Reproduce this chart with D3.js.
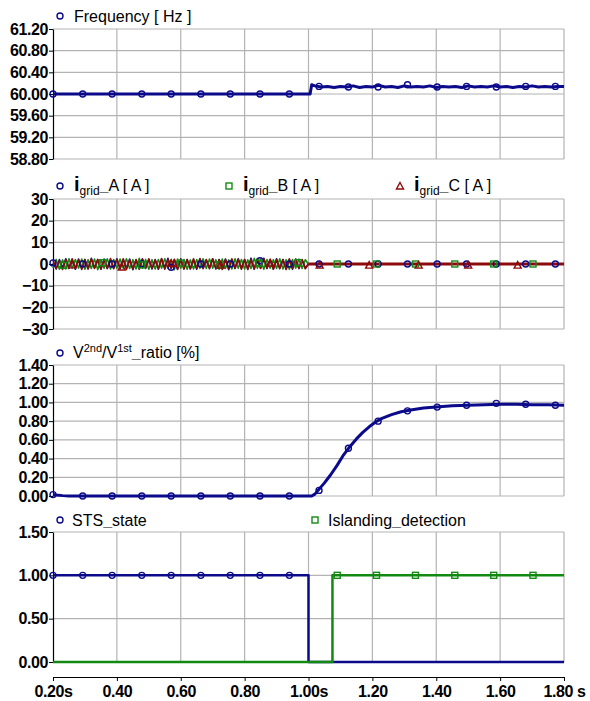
<!DOCTYPE html>
<html>
<head>
<meta charset="utf-8">
<script src="https://cdn.jsdelivr.net/npm/d3@7"></script>
<style>
  body { margin: 0; background: #fff; }
  text { font-family: "Liberation Sans", Arial, sans-serif; }
  .tick text { font-size: 16px; font-weight: bold; fill: #000; }
</style>
</head>
<body>
<svg id="chart" width="590" height="701"></svg>
<script>
// ---- data ----
const timeTicks = [0.2, 0.4, 0.6, 0.8, 1.0, 1.2, 1.4, 1.6, 1.8];
const timeTickLabels = ["0.20s", "0.40", "0.60", "0.80", "1.00s", "1.20", "1.40", "1.60", "1.80 s"];

const freqTicks = [58.8, 59.2, 59.6, 60.0, 60.4, 60.8, 61.2];
const currTicks = [-30, -20, -10, 0, 10, 20, 30];
const ratioTicks = [0, 0.2, 0.4, 0.6, 0.8, 1.0, 1.2, 1.4];
const stateTicks = [0, 0.5, 1.0, 1.5];

// frequency [Hz]
const freqTime = [0.20, 1.00, 1.005, 1.01,
  1.02, 1.04, 1.06, 1.08, 1.10, 1.12, 1.14, 1.16, 1.18, 1.20,
  1.22, 1.24, 1.26, 1.28, 1.30, 1.32, 1.34, 1.36, 1.38, 1.40,
  1.42, 1.44, 1.46, 1.48, 1.50, 1.52, 1.54, 1.56, 1.58, 1.60,
  1.62, 1.64, 1.66, 1.68, 1.70, 1.72, 1.74, 1.76, 1.78, 1.80];
const freqValue = [60.0, 60.0, 60.0, 60.17,
  60.15, 60.13, 60.14, 60.12, 60.14, 60.13, 60.15, 60.12, 60.14, 60.13,
  60.16, 60.13, 60.14, 60.12, 60.15, 60.13, 60.14, 60.13, 60.15, 60.12,
  60.14, 60.13, 60.14, 60.12, 60.15, 60.13, 60.14, 60.13, 60.15, 60.13,
  60.14, 60.12, 60.14, 60.13, 60.15, 60.13, 60.14, 60.13, 60.14, 60.14];

// marker positions (circle / square / triangle symbols)
const circleTime = [0.200, 0.293, 0.385, 0.478, 0.570, 0.663, 0.755, 0.848, 0.940,
  1.033, 1.125, 1.218, 1.310, 1.403, 1.495, 1.588, 1.680, 1.773];
const squareTime = [0.233, 0.355, 0.478, 0.600, 0.723, 0.845, 0.968,
  1.090, 1.213, 1.335, 1.458, 1.580, 1.703];
const triTime = [0.260, 0.415, 0.570, 0.725, 0.880, 1.035, 1.190, 1.345, 1.500, 1.655];

const freqMark = [60, 60, 60, 60, 60, 60, 60, 60, 60,
  60.14, 60.13, 60.13, 60.17, 60.13, 60.14, 60.13, 60.14, 60.14];

// grid currents [A]
const currTime = [0.20, 0.21, 0.22, 0.23, 0.24, 0.25, 0.26, 0.27, 0.28, 0.29,
  0.30, 0.31, 0.32, 0.33, 0.34, 0.35, 0.36, 0.37, 0.38, 0.39,
  0.40, 0.41, 0.42, 0.43, 0.44, 0.45, 0.46, 0.47, 0.48, 0.49,
  0.50, 0.51, 0.52, 0.53, 0.54, 0.55, 0.56, 0.57, 0.58, 0.59,
  0.60, 0.61, 0.62, 0.63, 0.64, 0.65, 0.66, 0.67, 0.68, 0.69,
  0.70, 0.71, 0.72, 0.73, 0.74, 0.75, 0.76, 0.77, 0.78, 0.79,
  0.80, 0.81, 0.82, 0.83, 0.84, 0.85, 0.86, 0.87, 0.88, 0.89,
  0.90, 0.91, 0.92, 0.93, 0.94, 0.95, 0.96, 0.97, 0.98, 0.99,
  1.00, 1.80];
const iA = [0.6, -2.3, 2.1, -1.9, 2.4, -2.1, 2.0, -2.4, 2.3, -1.9,
  2.1, -2.3, 2.6, -2.0, 1.9, -2.4, 2.3, -2.1, 2.0, -1.9,
  2.4, -2.3, 2.1, -2.0, 2.3, -2.6, 1.9, -2.1, 2.4, -2.0,
  2.1, -2.3, 2.0, -2.4, 2.3, -1.9, 2.6, -2.1, 2.0, -2.3,
  2.4, -2.0, 2.1, -2.3, 1.9, -2.4, 2.3, -2.1, 2.0, -1.9,
  2.4, -2.3, 2.1, -2.0, 2.3, -2.6, 2.0, -2.1, 2.4, -2.0,
  2.1, -2.3, 2.7, -2.4, 2.3, -1.9, 2.6, -2.1, 2.0, -2.3,
  2.4, -2.0, 2.1, -2.3, 1.9, -2.4, 2.3, -2.1, 2.0, -1.9,
  0, 0];
const iB = [-1.9, 2.1, -2.4, 1.9, -2.3, 2.4, -2.0, 2.1, -1.9, 2.3,
  -2.4, 2.0, -2.1, 2.3, -2.6, 1.9, -2.0, 2.4, -2.3, 2.1,
  -2.0, 2.3, -1.9, 2.4, -2.1, 2.0, -2.3, 2.6, -1.9, 2.1,
  -2.4, 2.0, -2.3, 2.1, -1.9, 2.4, -2.1, 2.0, -2.6, 2.3,
  -2.0, 2.1, -2.4, 1.9, -2.3, 2.1, -2.0, 2.4, -2.1, 2.3,
  -1.9, 2.0, -2.4, 2.3, -2.1, 1.9, -2.3, 2.4, -2.0, 2.1,
  -2.3, 1.9, -2.1, 2.6, -2.0, 2.3, -2.4, 2.1, -1.9, 2.0,
  -2.1, 2.4, -2.3, 2.0, -2.4, 2.1, -1.9, 2.3, -2.1, 2.0,
  0, 0];
const iC = [1.8, -2.1, 1.6, -2.5, 2.1, -2.0, 2.4, -2.1, 1.9, -2.5,
  2.0, -2.2, 2.4, -2.0, 2.2, -2.4, 2.0, -2.1, 2.5, -2.2,
  2.1, -2.0, 2.4, -2.5, 2.0, -2.2, 2.1, -2.4, 2.2, -2.0,
  2.4, -2.1, 2.0, -2.2, 2.5, -2.4, 2.1, -2.0, 2.2, -2.5,
  2.0, -2.4, 2.1, -2.2, 2.4, -2.0, 2.5, -2.1, 2.0, -2.2,
  2.4, -2.1, 2.0, -2.5, 2.1, -2.2, 2.4, -2.0, 2.2, -2.4,
  2.1, -2.5, 2.0, -2.2, 2.4, -2.1, 2.5, -2.0, 2.2, -2.4,
  2.0, -2.2, 2.1, -2.5, 2.4, -2.0, 2.2, -2.1, 2.0, -2.2,
  0, 0];
const iAMark = [0.5, 0, 0, 0, -1.5, 0, 0, 1.5, 0, 0, 0, 0, 0, 0, 0, 0, 0, 0];
const iBMark = [-0.6, 0.6, -0.4, 0.4, -0.5, 0.4, 0.6, 0, 0, 0, 0, 0, 0];
const iCMark = [-0.4, -1.4, 0.3, -0.5, 0.4, -0.5, -0.5, -0.5, -0.5, -0.5];

// V2nd/V1st ratio [%]
const ratioTime = [0.20, 0.21, 0.23, 0.25, 1.01, 1.02, 1.03, 1.05, 1.07, 1.09,
  1.11, 1.13, 1.15, 1.17, 1.19, 1.21, 1.23, 1.26, 1.29, 1.32,
  1.36, 1.40, 1.45, 1.50, 1.55, 1.60, 1.65, 1.70, 1.75, 1.80];
const ratioValue = [0.015, 0.01, 0.004, 0.0, 0.0, 0.02, 0.06, 0.14, 0.23, 0.33,
  0.44, 0.53, 0.61, 0.68, 0.74, 0.79, 0.83, 0.87, 0.90, 0.92,
  0.94, 0.95, 0.965, 0.97, 0.975, 0.98, 0.98, 0.975, 0.975, 0.97];
const ratioMark = [0.015, 0, 0, 0, 0, 0, 0, 0, 0,
  0.06, 0.51, 0.80, 0.91, 0.95, 0.97, 0.99, 0.98, 0.97];

// STS state / islanding detection
const stsTime = [0.2, 1.0, 1.0, 1.8];
const stsValue = [1, 1, 0, 0];
const islandTime = [0.2, 1.075, 1.075, 1.8];
const islandValue = [0, 0, 1, 1];
const stsMark = [1, 1, 1, 1, 1, 1, 1, 1, 1, null, null, null, null, null, null, null, null, null];
const islandMark = [null, null, null, null, null, null, null, 1, 1, 1, 1, 1, 1];

// ---- drawing ----
const NAVY = "#0a0a8a", GREEN = "#128a12", DRED = "#8e0a0a", GRID = "#b3b3b3";
const svg = d3.select("#chart");
const left = 53, right = 564;
const x = d3.scaleLinear().domain([0.2, 1.8]).range([left, right]);

function zipXY(ts, vs) {
  return ts.map((t, i) => ({ t: t, v: vs[i] })).filter(d => d.v !== null);
}

function makePanel(top, bottom, domain, ticks, fmt) {
  const y = d3.scaleLinear().domain(domain).range([bottom, top]);
  const g = svg.append("g");
  // grid
  g.selectAll(".hg").data(ticks).enter().append("line")
    .attr("x1", left).attr("x2", right)
    .attr("y1", d => y(d)).attr("y2", d => y(d))
    .attr("stroke", GRID).attr("stroke-width", 1.2);
  g.selectAll(".vg").data(timeTicks.slice(1)).enter().append("line")
    .attr("x1", d => x(d)).attr("x2", d => x(d))
    .attr("y1", top).attr("y2", bottom)
    .attr("stroke", GRID).attr("stroke-width", 1.2);
  // left axis
  const ax = g.append("g").attr("transform", "translate(" + left + ",0)")
    .call(d3.axisLeft(y).tickValues(ticks).tickSize(4).tickSizeOuter(0).tickPadding(1).tickFormat(fmt));
  ax.select(".domain").attr("stroke", "#000").attr("stroke-width", 1.2);
  ax.selectAll(".tick text").attr("letter-spacing", "-0.4px");
  return { g: g, y: y };
}

function drawLine(p, ts, vs, color, w) {
  const line = d3.line().x(d => x(d.t)).y(d => p.y(d.v));
  p.g.append("path").datum(zipXY(ts, vs))
    .attr("d", line).attr("fill", "none")
    .attr("stroke", color).attr("stroke-width", w).attr("stroke-linejoin", "round");
}

function marker(sel, type, cx, cy, color) {
  if (type === "circle") {
    sel.append("circle").attr("cx", cx).attr("cy", cy).attr("r", 3)
      .attr("fill", "none").attr("stroke", color).attr("stroke-width", 1.4);
  } else if (type === "square") {
    sel.append("rect").attr("x", cx - 3).attr("y", cy - 3).attr("width", 6).attr("height", 6)
      .attr("fill", "none").attr("stroke", color).attr("stroke-width", 1.4);
  } else {
    sel.append("path").attr("d", "M" + cx + "," + (cy - 3.5) + "L" + (cx + 3.5) + "," + (cy + 3) + "L" + (cx - 3.5) + "," + (cy + 3) + "Z")
      .attr("fill", "none").attr("stroke", color).attr("stroke-width", 1.4);
  }
}

function drawMarks(p, ts, vs, type, color) {
  zipXY(ts, vs).forEach(d => marker(p.g, type, x(d.t), p.y(d.v), color));
}

function legendText(lx, ly, parts) {
  const t = svg.append("text").attr("x", lx).attr("y", ly).attr("font-size", 16).attr("fill", "#000");
  parts.forEach(pt => {
    const s = t.append("tspan").text(pt.s);
    if (pt.size) s.attr("font-size", pt.size);
    if (pt.bold) s.attr("font-weight", "bold");
    if (pt.dy) s.attr("dy", pt.dy);
  });
  return t;
}

// panel 1 : frequency
const p1 = makePanel(29, 159, [58.8, 61.2], freqTicks, d3.format(".2f"));
drawLine(p1, freqTime, freqValue, NAVY, 3);
drawMarks(p1, circleTime, freqMark, "circle", NAVY);
marker(svg, "circle", 60, 16, NAVY);
legendText(74, 22, [{ s: "Frequency [ Hz ]" }]);

// panel 2 : grid currents
const p2 = makePanel(199, 329, [-30, 30], currTicks, d3.format("d"));
drawLine(p2, currTime, iA, NAVY, 1.6);
drawLine(p2, currTime, iB, GREEN, 1.6);
drawLine(p2, currTime, iC, DRED, 1.6);
p2.g.append("line").attr("x1", x(1.0)).attr("x2", x(1.8))
  .attr("y1", p2.y(0)).attr("y2", p2.y(0)).attr("stroke", DRED).attr("stroke-width", 3);
drawMarks(p2, circleTime, iAMark, "circle", NAVY);
drawMarks(p2, squareTime, iBMark, "square", GREEN);
drawMarks(p2, triTime, iCMark, "triangle", DRED);
const curLegend = [
  { lx: 60, name: "A", type: "circle", color: NAVY },
  { lx: 229, name: "B", type: "square", color: GREEN },
  { lx: 400, name: "C", type: "triangle", color: DRED }
];
curLegend.forEach(c => {
  marker(svg, c.type, c.lx, 186, c.color);
  legendText(c.lx + 14, 191, [
    { s: "i", size: 20, bold: true },
    { s: "grid", size: 12, dy: 4 },
    { s: "_", bold: true, dy: -4 },
    { s: c.name + " [ A ]" }
  ]);
});

// panel 3 : ratio
const p3 = makePanel(365, 496, [0, 1.4], ratioTicks, d3.format(".2f"));
drawLine(p3, ratioTime, ratioValue, NAVY, 3);
drawMarks(p3, circleTime, ratioMark, "circle", NAVY);
marker(svg, "circle", 60, 353, NAVY);
legendText(73, 358, [
  { s: "V" },
  { s: "2nd", size: 11, dy: -6 },
  { s: "/V", dy: 6 },
  { s: "1st", size: 11, dy: -6 },
  { s: "_", bold: true, dy: 6 },
  { s: "ratio [%]" }
]);

// panel 4 : states
const p4 = makePanel(532, 662, [0, 1.5], stateTicks, d3.format(".2f"));
drawLine(p4, stsTime, stsValue, NAVY, 2.5);
drawLine(p4, islandTime, islandValue, GREEN, 2.5);
drawMarks(p4, circleTime, stsMark, "circle", NAVY);
drawMarks(p4, squareTime, islandMark, "square", GREEN);
marker(svg, "circle", 60, 520, NAVY);
legendText(72, 526, [{ s: "STS" }, { s: "_", bold: true }, { s: "state" }]);
marker(svg, "square", 315, 520, GREEN);
legendText(328, 526, [{ s: "Islanding" }, { s: "_", bold: true }, { s: "detection" }]);

// time axis
const xa = svg.append("g").attr("transform", "translate(0,677)")
  .call(d3.axisBottom(x).tickValues(timeTicks).tickSize(4).tickSizeOuter(0).tickPadding(5)
    .tickFormat((d, i) => timeTickLabels[i]));
xa.select(".domain").attr("stroke", "#000").attr("stroke-width", 1.2);
xa.selectAll(".tick text").attr("letter-spacing", "-0.4px");
</script>
</body>
</html>
